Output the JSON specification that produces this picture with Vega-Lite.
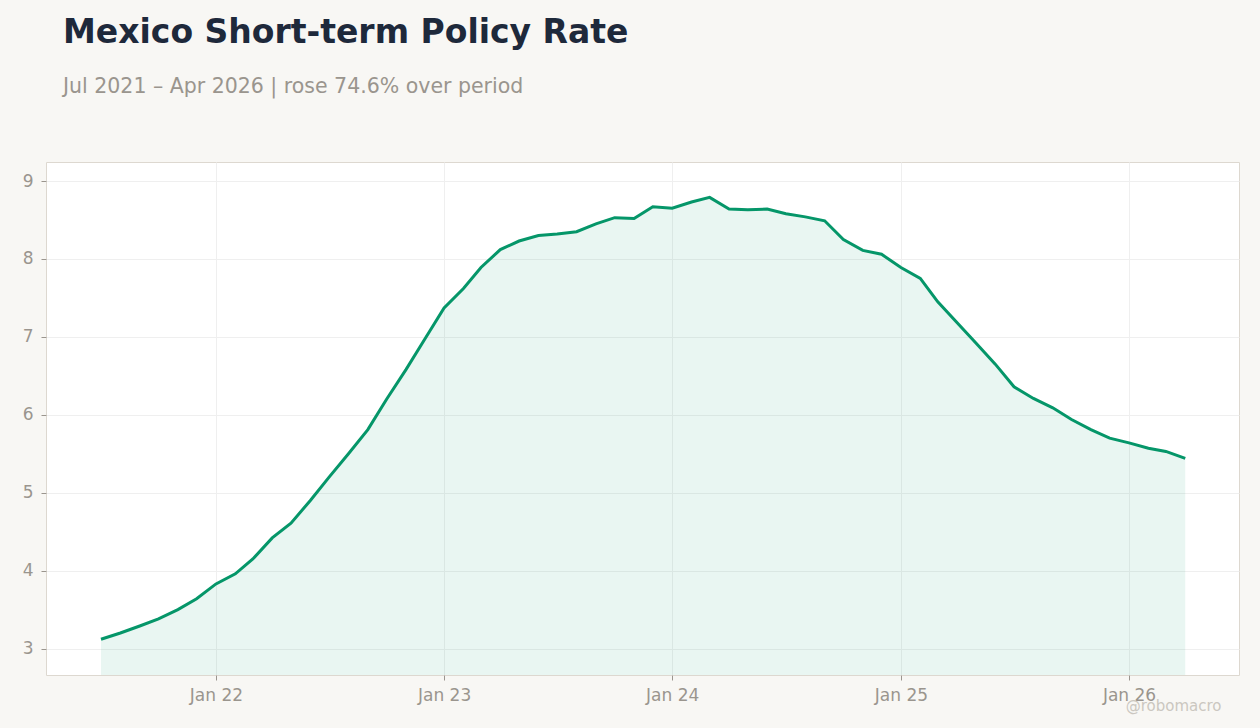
{
  "$schema": "https://vega.github.io/schema/vega-lite/v6.json",
  "width": 1193,
  "height": 513,
  "autosize": "none",
  "padding": {"left": 46, "top": 162, "right": 21, "bottom": 53},
  "background": "#f8f7f4",
  "config": {
    "font": "DejaVu Sans",
    "view": {"fill": "white", "stroke": "#ddd8d0", "strokeWidth": 1},
    "axis": {
      "labelColor": "#9a958e",
      "labelFontSize": 17,
      "tickColor": "#9a958e",
      "tickSize": 5,
      "domain": false,
      "gridColor": "#efefef",
      "gridWidth": 1
    }
  },
  "title": {
    "text": "Mexico Short-term Policy Rate",
    "subtitle": "Jul 2021 – Apr 2026 | rose 74.6% over period",
    "anchor": "start",
    "frame": "group",
    "dx": 17,
    "offset": 65,
    "fontSize": 33,
    "fontWeight": "bold",
    "color": "#1e293b",
    "subtitleFontSize": 20.5,
    "subtitleColor": "#9a958e",
    "subtitlePadding": 26.5
  },
  "data": {
    "values": [
      {"date": "2021-07-01", "rate": 3.12},
      {"date": "2021-08-01", "rate": 3.2},
      {"date": "2021-09-01", "rate": 3.29},
      {"date": "2021-10-01", "rate": 3.38},
      {"date": "2021-11-01", "rate": 3.5},
      {"date": "2021-12-01", "rate": 3.64},
      {"date": "2022-01-01", "rate": 3.83},
      {"date": "2022-02-01", "rate": 3.96},
      {"date": "2022-03-01", "rate": 4.15},
      {"date": "2022-04-01", "rate": 4.42},
      {"date": "2022-05-01", "rate": 4.61},
      {"date": "2022-06-01", "rate": 4.9},
      {"date": "2022-07-01", "rate": 5.2},
      {"date": "2022-08-01", "rate": 5.5},
      {"date": "2022-09-01", "rate": 5.81},
      {"date": "2022-10-01", "rate": 6.2},
      {"date": "2022-11-01", "rate": 6.58},
      {"date": "2022-12-01", "rate": 6.97},
      {"date": "2023-01-01", "rate": 7.37},
      {"date": "2023-02-01", "rate": 7.62},
      {"date": "2023-03-01", "rate": 7.89},
      {"date": "2023-04-01", "rate": 8.12},
      {"date": "2023-05-01", "rate": 8.23},
      {"date": "2023-06-01", "rate": 8.3},
      {"date": "2023-07-01", "rate": 8.32},
      {"date": "2023-08-01", "rate": 8.35},
      {"date": "2023-09-01", "rate": 8.45},
      {"date": "2023-10-01", "rate": 8.53},
      {"date": "2023-11-01", "rate": 8.52},
      {"date": "2023-12-01", "rate": 8.67},
      {"date": "2024-01-01", "rate": 8.65},
      {"date": "2024-02-01", "rate": 8.73},
      {"date": "2024-03-01", "rate": 8.79},
      {"date": "2024-04-01", "rate": 8.64},
      {"date": "2024-05-01", "rate": 8.63},
      {"date": "2024-06-01", "rate": 8.64},
      {"date": "2024-07-01", "rate": 8.58},
      {"date": "2024-08-01", "rate": 8.54},
      {"date": "2024-09-01", "rate": 8.49},
      {"date": "2024-10-01", "rate": 8.25},
      {"date": "2024-11-01", "rate": 8.11},
      {"date": "2024-12-01", "rate": 8.06},
      {"date": "2025-01-01", "rate": 7.89},
      {"date": "2025-02-01", "rate": 7.75},
      {"date": "2025-03-01", "rate": 7.45},
      {"date": "2025-04-01", "rate": 7.18},
      {"date": "2025-05-01", "rate": 6.92},
      {"date": "2025-06-01", "rate": 6.65},
      {"date": "2025-07-01", "rate": 6.36},
      {"date": "2025-08-01", "rate": 6.21},
      {"date": "2025-09-01", "rate": 6.09},
      {"date": "2025-10-01", "rate": 5.94},
      {"date": "2025-11-01", "rate": 5.81},
      {"date": "2025-12-01", "rate": 5.7},
      {"date": "2026-01-01", "rate": 5.64},
      {"date": "2026-02-01", "rate": 5.57},
      {"date": "2026-03-01", "rate": 5.53},
      {"date": "2026-04-01", "rate": 5.44}
    ]
  },
  "encoding": {
    "x": {
      "field": "date",
      "type": "temporal",
      "scale": {
        "type": "utc",
        "domain": [
          {"year": 2021, "month": 4, "date": 4, "utc": true},
          {"year": 2026, "month": 6, "date": 26, "utc": true}
        ]
      },
      "axis": {
        "title": "@robomacro",
        "titleAnchor": "end",
        "titleAlign": "right",
        "titleBaseline": "alphabetic",
        "titleX": 1175,
        "titleY": 35,
        "titleFontSize": 15,
        "titleFontWeight": "normal",
        "titleColor": "#cbc7c0",
        "format": "%b %y",
        "labelPadding": 7,
        "values": [
          {"year": 2022, "month": 1, "date": 1, "utc": true},
          {"year": 2023, "month": 1, "date": 1, "utc": true},
          {"year": 2024, "month": 1, "date": 1, "utc": true},
          {"year": 2025, "month": 1, "date": 1, "utc": true},
          {"year": 2026, "month": 1, "date": 1, "utc": true}
        ]
      }
    },
    "y": {
      "field": "rate",
      "type": "quantitative",
      "scale": {"domain": [2.661, 9.244], "nice": false, "zero": false},
      "axis": {"title": null, "values": [3, 4, 5, 6, 7, 8, 9], "labelPadding": 8}
    }
  },
  "layer": [
    {"mark": {"type": "area", "color": "#059669", "opacity": 0.085, "clip": true}},
    {"mark": {"type": "line", "color": "#059669", "strokeWidth": 3, "clip": true}}
  ]
}
